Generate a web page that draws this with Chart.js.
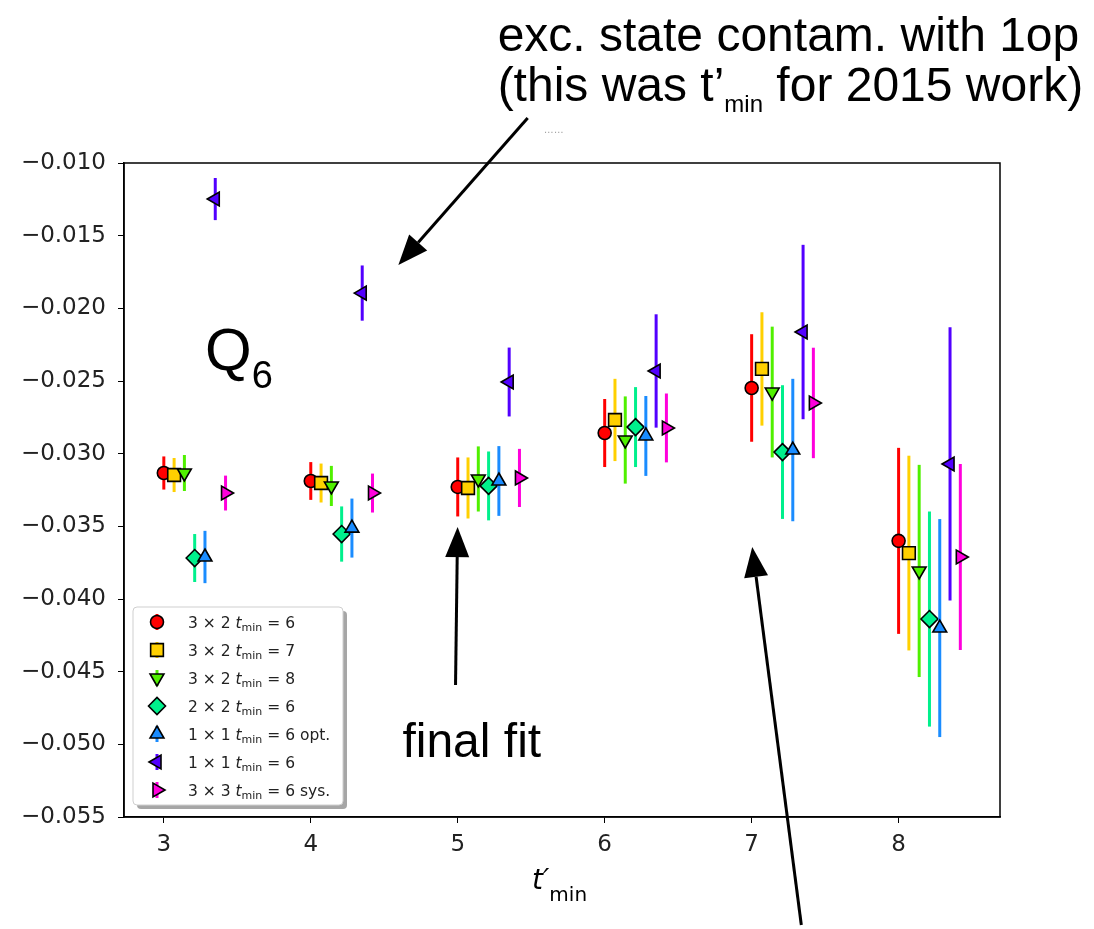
<!DOCTYPE html>
<html lang="en">
<head>
    <meta charset="UTF-8">
    <title>Q6 vs t'min</title>
    <script src="https://cdn.jsdelivr.net/npm/chart.js"></script>
    <style>
        body {
            margin: 0;
            padding: 0;
            background: white;
        }
        .wrap {
            width: 1094px;
            height: 929px;
        }
    </style>
</head>
<body>

    <div class="wrap">
        <canvas id="qChart" width="1094" height="929"></canvas>
    </div>

    <script>
        // t'_min values and y-axis ticks
        const tmin = [3, 4, 5, 6, 7, 8];
        const xTicks = [3, 4, 5, 6, 7, 8];
        const yTicks = [-0.055, -0.050, -0.045, -0.040, -0.035, -0.030, -0.025, -0.020, -0.015, -0.010];

        // one pair (value, error) per fit
        const fit3x2t6 = [-0.03133, -0.03188, -0.03229, -0.02858, -0.02548, -0.03600];
        const err3x2t6 = [0.00114, 0.00130, 0.00203, 0.00234, 0.00370, 0.00640];
        const fit3x2t7 = [-0.03147, -0.03202, -0.03236, -0.02768, -0.02417, -0.03684];
        const err3x2t7 = [0.00117, 0.00134, 0.00210, 0.00283, 0.00390, 0.00670];
        const fit3x2t8 = [-0.03133, -0.03222, -0.03174, -0.02906, -0.02576, -0.03807];
        const err3x2t8 = [0.00124, 0.00138, 0.00224, 0.00300, 0.00450, 0.00730];
        const fit2x2t6 = [-0.03718, -0.03553, -0.03222, -0.02817, -0.02989, -0.04138];
        const err2x2t6 = [0.00165, 0.00190, 0.00237, 0.00275, 0.00460, 0.00740];
        const fit1x1opt = [-0.03711, -0.03512, -0.03188, -0.02878, -0.02975, -0.04200];
        const err1x1opt = [0.00180, 0.00203, 0.00240, 0.00275, 0.00490, 0.00750];
        const fit1x1t6 = [-0.01248, -0.01895, -0.02507, -0.02431, -0.02163, -0.03071];
        const err1x1t6 = [0.00145, 0.00190, 0.00237, 0.00390, 0.00600, 0.00940];
        const fit3x3sys = [-0.03271, -0.03271, -0.03167, -0.02823, -0.02651, -0.03711];
        const err3x3sys = [0.00120, 0.00134, 0.00200, 0.00237, 0.00380, 0.00640];

        const labelHead = ['3 × 2', '3 × 2', '3 × 2', '2 × 2', '1 × 1', '1 × 1', '3 × 3'];
        const labelTail = ['= 6', '= 7', '= 8', '= 6', '= 6 opt.', '= 6', '= 6 sys.'];

        const values = [fit3x2t6, fit3x2t7, fit3x2t8, fit2x2t6, fit1x1opt, fit1x1t6, fit3x3sys];
        const errors = [err3x2t6, err3x2t7, err3x2t8, err2x2t6, err1x1opt, err1x1t6, err3x3sys];

        // looks
        const colors = ['#ff0000', '#ffd000', '#50f000', '#00f08c', '#1a8cff', '#5200ff', '#ff00dc'];
        const styles = ['circle', 'rect', 'triangle', 'rectRot', 'triangle', 'triangle', 'triangle'];
        const rotations = [0, 0, 180, 0, 0, -90, 90];
        const radii = [6.5, 9, 8, 8.5, 8, 8, 8];
        const OFFSET = 0.07;   // sideways shift between fits

        const DEJAVU = "'DejaVu Sans', sans-serif";
        const ARIAL = "'Liberation Sans', Arial, sans-serif";

        const datasets = values.map((vals, i) => ({
            label: labelHead[i] + ' tmin ' + labelTail[i],
            data: vals.map((v, j) => ({ x: tmin[j] + i * OFFSET, y: v })),
            pointStyle: styles[i],
            pointRotation: rotations[i],
            pointRadius: radii[i],
            pointHoverRadius: radii[i],
            pointBackgroundColor: colors[i],
            pointBorderColor: '#000',
            pointBorderWidth: 1.6,
            showLine: false,
            order: -i
        }));

        // error bars, drawn right before each fit's markers
        const errorBars = {
            id: 'errorBars',
            beforeDatasetDraw(chart, args) {
                const i = args.index;
                const ctx = chart.ctx;
                const xs = chart.scales.x, ys = chart.scales.y;
                ctx.save();
                ctx.strokeStyle = colors[i];
                ctx.lineWidth = 3;
                values[i].forEach((v, j) => {
                    const px = xs.getPixelForValue(tmin[j] + i * OFFSET);
                    ctx.beginPath();
                    ctx.moveTo(px, ys.getPixelForValue(v - errors[i][j]));
                    ctx.lineTo(px, ys.getPixelForValue(v + errors[i][j]));
                    ctx.stroke();
                });
                ctx.restore();
            }
        };

        function drawArrow(ctx, x0, y0, x1, y1) {
            const ang = Math.atan2(y1 - y0, x1 - x0);
            const len = 30, half = 12;
            const bx = x1 - Math.cos(ang) * len, by = y1 - Math.sin(ang) * len;
            ctx.beginPath();
            ctx.moveTo(x0, y0);
            ctx.lineTo(bx, by);
            ctx.lineWidth = 3;
            ctx.strokeStyle = '#000';
            ctx.stroke();
            ctx.beginPath();
            ctx.moveTo(x1, y1);
            ctx.lineTo(bx - Math.sin(ang) * half, by + Math.cos(ang) * half);
            ctx.lineTo(bx + Math.sin(ang) * half, by - Math.cos(ang) * half);
            ctx.closePath();
            ctx.fillStyle = '#000';
            ctx.fill();
        }

        // text pieces: [string, font, baseline shift]
        function drawPieces(ctx, x, y, pieces) {
            pieces.forEach(p => {
                ctx.font = p[1];
                ctx.fillText(p[0], x, y + p[2]);
                x += ctx.measureText(p[0]).width;
            });
            return x;
        }

        const extras = {
            id: 'extras',
            afterDraw(chart) {
                const ctx = chart.ctx;
                const a = chart.chartArea;
                const xs = chart.scales.x, ys = chart.scales.y;
                const X = v => xs.getPixelForValue(v);
                const Y = v => ys.getPixelForValue(v);
                ctx.save();

                // frame on all four sides
                ctx.strokeStyle = '#000';
                ctx.lineWidth = 1.5;
                ctx.strokeRect(a.left, a.top, a.right - a.left, a.bottom - a.top);

                // x-axis title t'_min
                ctx.fillStyle = '#000';
                ctx.textBaseline = 'alphabetic';
                ctx.textAlign = 'left';
                const cx = (a.left + a.right) / 2;
                drawPieces(ctx, cx - 30, 889, [
                    ['t′', 'italic 28px ' + DEJAVU, 0],
                    ['min', '20px ' + DEJAVU, 12]
                ]);

                // legend
                const lx = 133, ly = 607, lw = 210, lh = 198;
                ctx.fillStyle = 'rgba(0,0,0,0.35)';
                ctx.beginPath();
                ctx.roundRect(lx + 4, ly + 4, lw, lh, 4);
                ctx.fill();
                ctx.fillStyle = '#fff';
                ctx.strokeStyle = '#cfcfcf';
                ctx.lineWidth = 1;
                ctx.beginPath();
                ctx.roundRect(lx, ly, lw, lh, 4);
                ctx.fill();
                ctx.stroke();
                values.forEach((vals, i) => {
                    const ry = 622 + i * 28;
                    const mx = 157;
                    ctx.strokeStyle = colors[i];
                    ctx.lineWidth = 3;
                    ctx.beginPath();
                    ctx.moveTo(mx, ry - 8);
                    ctx.lineTo(mx, ry + 8);
                    ctx.stroke();
                    ctx.fillStyle = colors[i];
                    ctx.strokeStyle = '#000';
                    ctx.lineWidth = 1.6;
                    Chart.helpers.drawPoint(ctx, {
                        pointStyle: styles[i], rotation: rotations[i], radius: radii[i], borderWidth: 1.6
                    }, mx, ry);
                    ctx.fillStyle = '#222';
                    drawPieces(ctx, 188, ry + 6, [
                        [labelHead[i] + ' ', '15.5px ' + DEJAVU, 0],
                        ['t', 'italic 15.5px ' + DEJAVU, 0],
                        ['min', '11px ' + DEJAVU, 3],
                        [' ' + labelTail[i], '15.5px ' + DEJAVU, 0]
                    ]);
                });

                // annotations, placed in data coordinates
                ctx.fillStyle = '#000';
                ctx.font = '48px ' + ARIAL;
                ctx.fillText('exc. state contam. with 1op', X(5.2715), Y(-0.00230));
                drawPieces(ctx, X(5.2715), Y(-0.00570), [
                    ['(this was t’', '48px ' + ARIAL, 0],
                    ['min', '24px ' + ARIAL, 11],
                    [' for 2015 work)', '48px ' + ARIAL, 0]
                ]);
                ctx.fillStyle = '#999';
                ctx.font = '10px ' + ARIAL;
                ctx.fillText('……', X(5.585), Y(-0.00795));

                ctx.fillStyle = '#000';
                drawPieces(ctx, X(3.28), Y(-0.02424), [
                    ['Q', '60px ' + ARIAL, 0],
                    ['6', '38px ' + ARIAL, 18]
                ]);
                ctx.font = '48px ' + ARIAL;
                ctx.fillText('final fit', X(4.6235), Y(-0.05087));

                drawArrow(ctx, X(5.476), Y(-0.00690), X(4.596), Y(-0.01702));
                drawArrow(ctx, X(4.985), Y(-0.04592), X(4.999), Y(-0.03505));
                drawArrow(ctx, X(7.338), Y(-0.06243), X(7.004), Y(-0.03642));

                ctx.restore();
            }
        };

        new Chart(document.getElementById('qChart'), {
            type: 'scatter',
            data: { datasets: datasets },
            options: {
                responsive: false,
                animation: false,
                layout: { padding: { top: 163, right: 94, left: 0, bottom: 0 } },
                plugins: {
                    legend: { display: false },
                    tooltip: { enabled: false }
                },
                scales: {
                    x: {
                        type: 'linear',
                        min: 2.729,
                        max: 8.69,
                        afterBuildTicks: s => { s.ticks = xTicks.map(v => ({ value: v })); },
                        afterFit: s => { s.height = 112; },
                        grid: { drawOnChartArea: false, drawTicks: true, tickLength: 6, color: '#000' },
                        border: { color: '#000', width: 1.5 },
                        ticks: {
                            color: '#222',
                            padding: 8,
                            font: { family: DEJAVU, size: 23 },
                            callback: v => String(v)
                        }
                    },
                    y: {
                        type: 'linear',
                        min: -0.055,
                        max: -0.010,
                        afterBuildTicks: s => { s.ticks = yTicks.map(v => ({ value: v })); },
                        afterFit: s => { s.width = 124; },
                        grid: { drawOnChartArea: false, drawTicks: true, tickLength: 6, color: '#000' },
                        border: { color: '#000', width: 1.5 },
                        ticks: {
                            color: '#222',
                            padding: 12,
                            font: { family: DEJAVU, size: 23 },
                            callback: v => '\u2212' + Math.abs(v).toFixed(3)
                        }
                    }
                }
            },
            plugins: [errorBars, extras]
        });
    </script>

</body>
</html>
